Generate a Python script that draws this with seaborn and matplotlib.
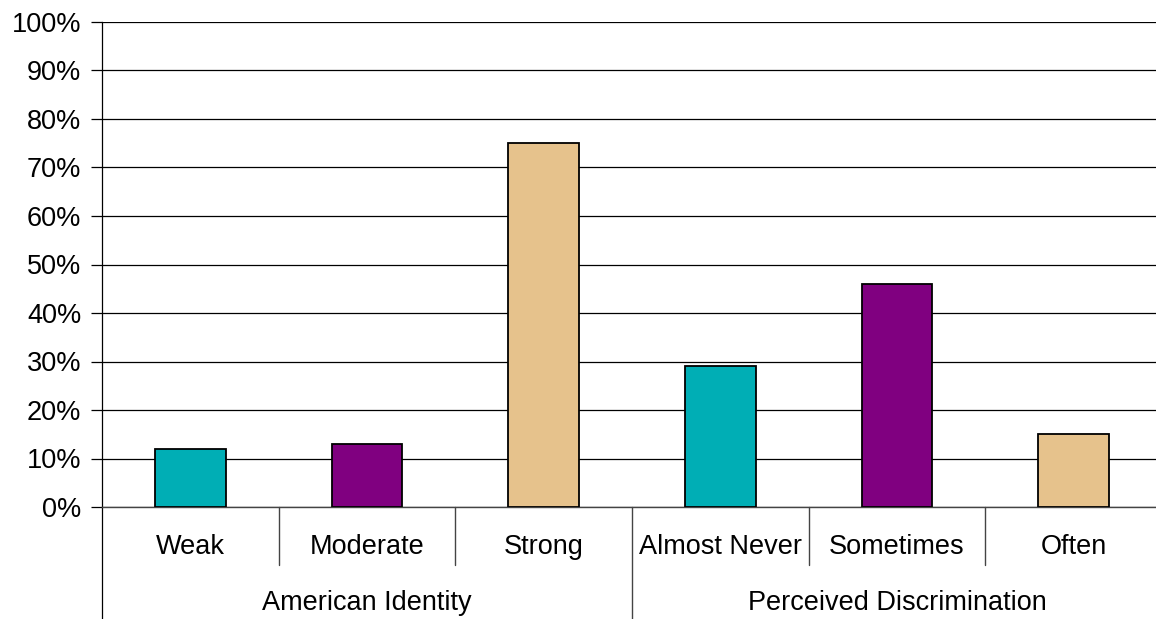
import matplotlib
matplotlib.use("Agg")
import matplotlib.pyplot as plt
import matplotlib.transforms as mtransforms
import seaborn as sns
import pandas as pd

# Survey results grouped by two dimensions
groups = ["American Identity", "Perceived Discrimination"]
categories = ["Weak", "Moderate", "Strong", "Almost Never", "Sometimes", "Often"]
group_of = [0, 0, 0, 1, 1, 1]
values = [12, 13, 75, 29, 46, 15]
y_ticks = [0, 10, 20, 30, 40, 50, 60, 70, 80, 90, 100]
y_tick_labels = [f"{t}%" for t in y_ticks]

colors = ["#00AEB5", "#800080", "#E6C28C", "#00AEB5", "#800080", "#E6C28C"]

df = pd.DataFrame({"category": categories, "value": values})

sns.set_style("white")
plt.rcParams["font.family"] = ["Liberation Sans", "DejaVu Sans"]
FS = 19.5

W, H = 1156, 619
fig = plt.figure(figsize=(W / 100, H / 100), dpi=100)
# Plot area runs slightly past the right edge of the canvas
ax = fig.add_axes([102 / W, 1 - 507 / H, 1060 / W, (507 - 22) / H])

sns.barplot(data=df, x="category", y="value", hue="category", palette=colors,
            saturation=1, width=0.4, edgecolor="black", linewidth=1.3,
            legend=False, ax=ax, zorder=3)

ax.set_ylim(0, 100)
ax.set_xlim(-0.5, len(categories) - 0.5)
ax.set_yticks(y_ticks)
ax.set_yticklabels(y_tick_labels, fontsize=FS, color="black")
ax.yaxis.grid(True, color="black", linewidth=0.9)
ax.set_axisbelow(True)
ax.tick_params(axis="y", length=8, width=0.9, color="black", left=True, pad=7)
ax.set_xticks([])
ax.set_xlabel("")
ax.set_ylabel("")

for side in ["top", "right"]:
    ax.spines[side].set_visible(False)
ax.spines["left"].set_color("black")
ax.spines["left"].set_linewidth(0.9)
ax.spines["bottom"].set_color("#444444")
ax.spines["bottom"].set_linewidth(1.0)

# Category separators below the axis (x in data units, y in axes units)
trans = mtransforms.blended_transform_factory(ax.transData, ax.transAxes)
axis_h = (507 - 22) / H
sub_drop = (565 - 507) / H / axis_h
full_drop = (H - 507) / H / axis_h

# Extend the left spine down through the label rows
ax.plot([-0.5, -0.5], [0, -full_drop], transform=trans, color="black",
        linewidth=0.9, clip_on=False)

for i in range(1, len(categories)):
    boundary = i - 0.5
    drop = full_drop if group_of[i] != group_of[i - 1] else sub_drop
    ax.plot([boundary, boundary], [0, -drop], transform=trans, color="#444444",
            linewidth=1.0, clip_on=False)

# Category labels
sub_label_y = -(547 - 507) / H / axis_h
for i, name in enumerate(categories):
    ax.text(i, sub_label_y, name, transform=trans, ha="center",
            va="center", fontsize=FS, color="black")

# Group labels centred under their categories
group_label_y = -(603 - 507) / H / axis_h
for g, name in enumerate(groups):
    idx = [i for i, gg in enumerate(group_of) if gg == g]
    center = (idx[0] + idx[-1]) / 2
    ax.text(center, group_label_y, name, transform=trans, ha="center",
            va="center", fontsize=FS, color="black")

fig.savefig("out.png", dpi=100, facecolor="white")
